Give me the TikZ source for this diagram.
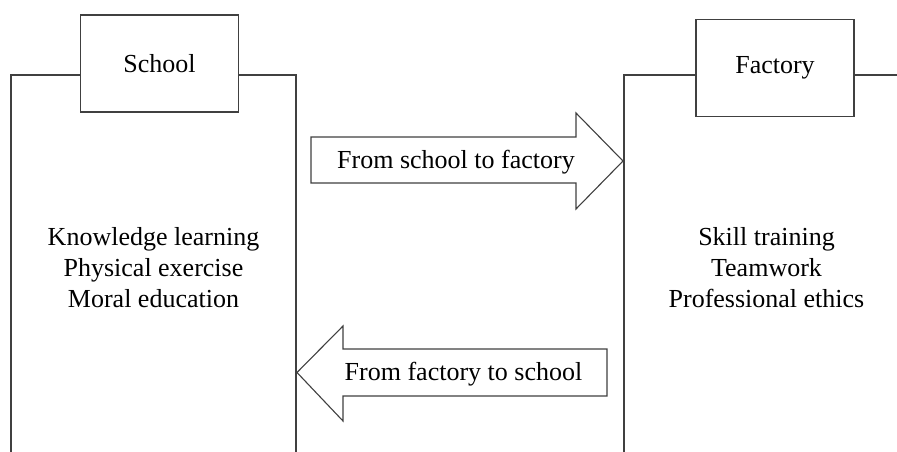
\documentclass[tikz,border=0pt]{standalone}
\usepackage{fontspec}
\setmainfont{Liberation Serif}
\begin{document}
\begin{tikzpicture}[x=1pt,y=-1pt,
  ln/.style={draw=black!75,line width=1.1pt},
  lbl/.style={font=\fontsize{26}{31}\selectfont,text=black,inner sep=0pt,align=center},
  titlebox/.style={ln,fill=white,minimum width=158pt,minimum height=97pt,inner sep=0pt,font=\fontsize{26}{31}\selectfont}]
\useasboundingbox (0,0) rectangle (897,452);
% left region
\draw[ln] (11,455) -- (11,75) -- (80,75);
\draw[ln] (239,75) -- (296,75) -- (296,455);
\node[titlebox] (school) at (159.5,63.5) {School};
% right region
\draw[ln] (624,455) -- (624,75) -- (696,75);
\draw[ln] (854,75) -- (900,75);
\node[titlebox] (factory) at (775,68) {Factory};
% contents
\node[lbl] (leftc) at (153.5,267.5) {Knowledge learning\\Physical exercise\\Moral education};
\node[lbl] (rightc) at (766.5,267.5) {Skill training\\Teamwork\\Professional ethics};
% arrows
\draw[ln,fill=white] (311,137) -- (576,137) -- (576,113) -- (623,161) -- (576,209) -- (576,183) -- (311,183) -- cycle;
\node[lbl] (a1) at (456,162) {From school to factory};
\draw[ln,fill=white] (607,349) -- (343,349) -- (343,326) -- (297,372.5) -- (343,421) -- (343,396) -- (607,396) -- cycle;
\node[lbl] (a2) at (463.5,374) {From factory to school};
\end{tikzpicture}
\end{document}
